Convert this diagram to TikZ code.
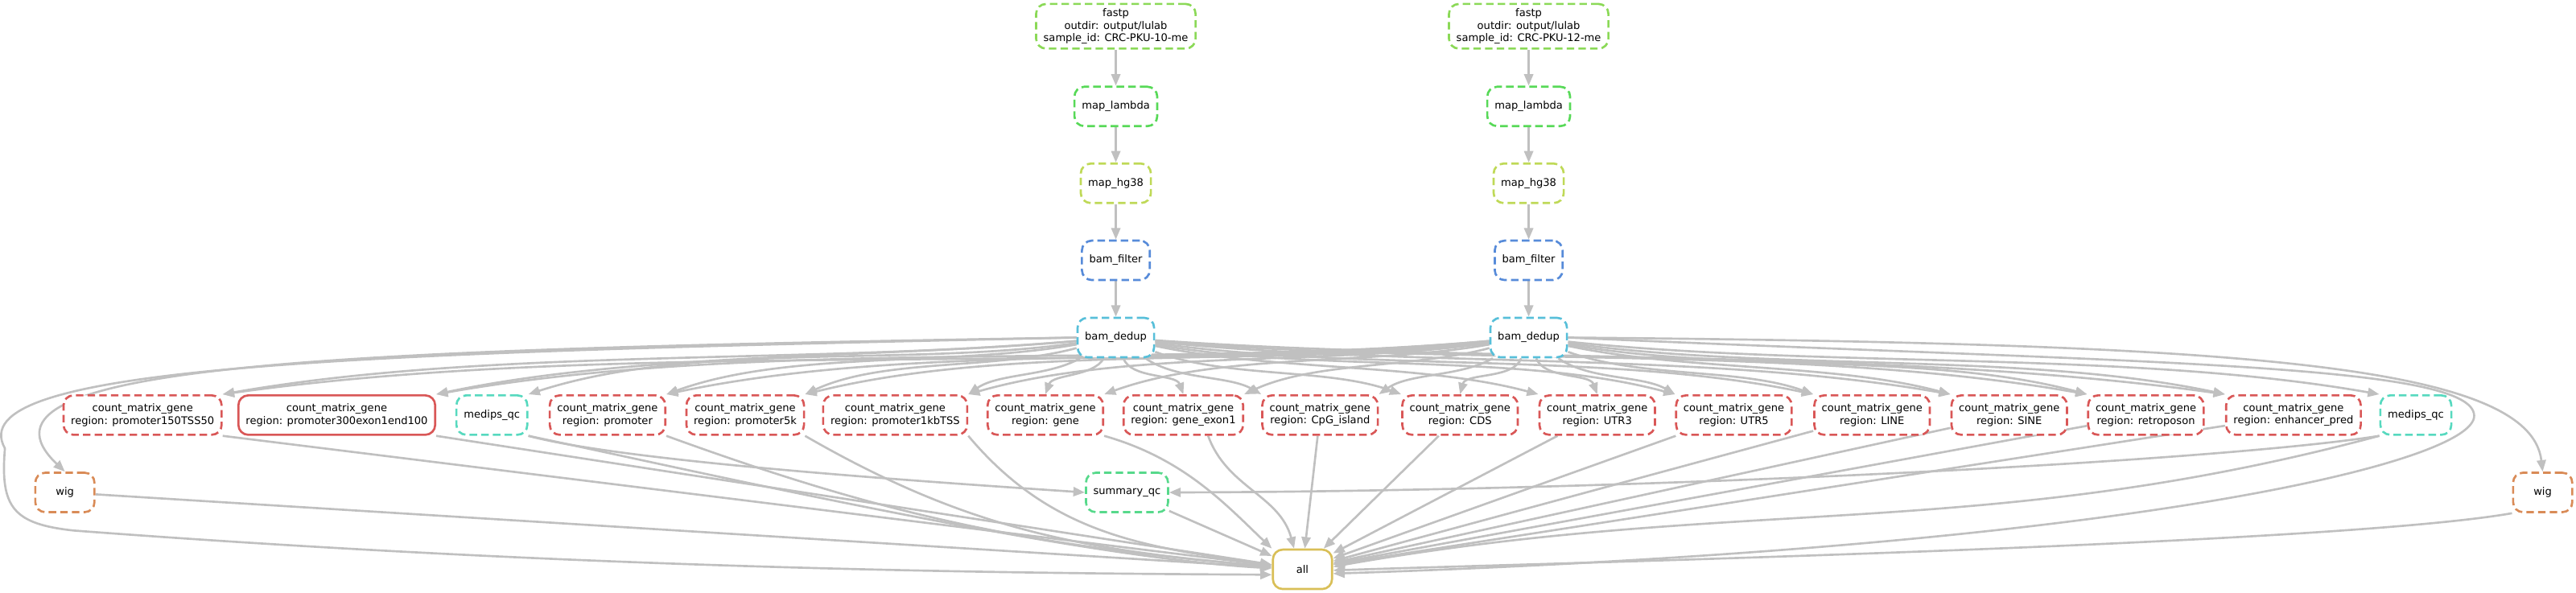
\documentclass[tikz,border=0pt]{standalone}
\usepackage{fontspec}
\setmainfont{DejaVu Sans}
\usepackage{tikz}
\usetikzlibrary{arrows.meta,backgrounds}
\usepackage{xcolor}
\definecolor{cmgred}{HTML}{D95757}
\definecolor{wigorange}{HTML}{D98B57}
\definecolor{allgold}{HTML}{D9BF57}
\definecolor{hgyellow}{HTML}{BFD957}
\definecolor{fastpgreen}{HTML}{8BD957}
\definecolor{lambdagreen}{HTML}{57D957}
\definecolor{summgreen}{HTML}{57D98B}
\definecolor{qcteal}{HTML}{57D9BF}
\definecolor{dedupcyan}{HTML}{57BFD9}
\definecolor{filterblue}{HTML}{578BD9}
\definecolor{edgegrey}{HTML}{C0C0C0}

\tikzset{
  rulebox/.style={draw=#1, fill=white, rounded corners=6pt, line width=1.3pt,
    dash pattern=on 4.6pt off 2.5pt, minimum width=36pt, minimum height=24pt,
    inner xsep=4.5pt, inner ysep=3pt, align=center,
    font=\fontsize{6.4}{7.4}\selectfont},
  runbox/.style={rulebox=#1, solid},
  dep/.style={draw=edgegrey, line width=1.3pt, -{Triangle[length=7pt,width=5.5pt]}},
  fan/.style={dep, looseness=0.8},
}

\begin{document}
\begin{tikzpicture}[x=1pt,y=1pt]
  \useasboundingbox (0,0) rectangle (1568,361);

  % one chain per sample
  \node[rulebox=fastpgreen] (fastpA) at (679.2,345) {fastp\\outdir: output/lulab\\sample\_id: CRC-PKU-10-me};
  \node[rulebox=lambdagreen] (lambdaA) at (679.2,296.2) {map\_lambda};
  \node[rulebox=hgyellow] (hgA) at (679.2,249.4) {map\_hg38};
  \node[rulebox=filterblue] (filterA) at (679.2,202.5) {bam\_filter};
  \node[rulebox=dedupcyan] (dedupA) at (679.2,155.5) {bam\_dedup};

  \node[rulebox=fastpgreen] (fastpB) at (930.5,345) {fastp\\outdir: output/lulab\\sample\_id: CRC-PKU-12-me};
  \node[rulebox=lambdagreen] (lambdaB) at (930.5,296.2) {map\_lambda};
  \node[rulebox=hgyellow] (hgB) at (930.5,249.4) {map\_hg38};
  \node[rulebox=filterblue] (filterB) at (930.5,202.5) {bam\_filter};
  \node[rulebox=dedupcyan] (dedupB) at (930.5,155.5) {bam\_dedup};

  % count matrices and qc
  \node[rulebox=cmgred] (r150) at (86.8,108.3) {count\_matrix\_gene\\region: promoter150TSS50};
  \node[runbox=cmgred] (r300) at (205,108.3) {count\_matrix\_gene\\region: promoter300exon1end100};
  \node[rulebox=qcteal] (qcA) at (299.4,108.3) {medips\_qc};
  \node[rulebox=cmgred] (rprom) at (369.8,108.3) {count\_matrix\_gene\\region: promoter};
  \node[rulebox=cmgred] (r5k) at (453.6,108.3) {count\_matrix\_gene\\region: promoter5k};
  \node[rulebox=cmgred] (r1kb) at (544.9,108.3) {count\_matrix\_gene\\region: promoter1kbTSS};
  \node[rulebox=cmgred] (rgene) at (636.3,108.3) {count\_matrix\_gene\\region: gene};
  \node[rulebox=cmgred] (rexon) at (720.3,108.3) {count\_matrix\_gene\\region: gene\_exon1};
  \node[rulebox=cmgred] (rcpg) at (803.5,108.3) {count\_matrix\_gene\\region: CpG\_island};
  \node[rulebox=cmgred] (rcds) at (888.7,108.3) {count\_matrix\_gene\\region: CDS};
  \node[rulebox=cmgred] (rutr3) at (972.2,108.3) {count\_matrix\_gene\\region: UTR3};
  \node[rulebox=cmgred] (rutr5) at (1055.4,108.3) {count\_matrix\_gene\\region: UTR5};
  \node[rulebox=cmgred] (rline) at (1139.5,108.3) {count\_matrix\_gene\\region: LINE};
  \node[rulebox=cmgred] (rsine) at (1223,108.3) {count\_matrix\_gene\\region: SINE};
  \node[rulebox=cmgred] (rretro) at (1306.2,108.3) {count\_matrix\_gene\\region: retroposon};
  \node[rulebox=cmgred] (renh) at (1396,108.3) {count\_matrix\_gene\\region: enhancer\_pred};
  \node[rulebox=qcteal] (qcB) at (1470.5,108.3) {medips\_qc};

  \node[rulebox=wigorange] (wigA) at (39.5,61.2) {wig};
  \node[rulebox=summgreen] (summary) at (686,61.2) {summary\_qc};
  \node[rulebox=wigorange] (wigB) at (1547.7,61.2) {wig};

  \node[runbox=allgold] (all) at (792.8,14.4) {all};

  \begin{scope}[on background layer]
    \foreach \s in {A,B} {
      \draw[dep] (fastp\s) -- (lambda\s);
      \draw[dep] (lambda\s) -- (hg\s);
      \draw[dep] (hg\s) -- (filter\s);
      \draw[dep] (filter\s) -- (dedup\s);
    }

    \foreach \t/\o/\i/\a in {r150/185/10/north east, r300/185/12/north east,
        qcA/188/18/north east, rprom/190/20/north east, r5k/195/25/north east,
        r1kb/210/35/north east, rgene/240/70/north, rexon/-70/110/north,
        rcpg/-35/150/north west, rcds/-20/160/north west, rutr3/-12/165/north west,
        rutr5/-10/165/north west, rline/-8/168/north west, rsine/-6/170/north west,
        rretro/-5/170/north west, renh/-4/172/north west}
      \draw[fan] (dedupA) to[out=\o,in=\i] (\t.\a);

    \foreach \t/\o/\i/\a in {r150/185/8/north east, r300/185/10/north east,
        rprom/186/12/north east, r5k/187/14/north east, r1kb/188/16/north east,
        rgene/190/20/north east, rexon/195/25/north east, rcpg/210/35/north east,
        rcds/250/75/north, rutr3/-70/110/north, rutr5/-35/150/north west,
        rline/-20/160/north west, rsine/-12/165/north west, rretro/-10/165/north west,
        renh/-8/168/north west, qcB/-6/170/north west}
      \draw[fan] (dedupB) to[out=\o,in=\i] (\t.\a);

    % wig and the long way round
    \draw[dep] (dedupA.west) .. controls (200,148) and (-30,140) .. (wigA.north);
    \draw[dep] (dedupB.east) .. controls (1360,152) and (1540,140) .. (wigB.north);
    \draw[dep] (dedupA.west) .. controls (200,146) and (-25,138) .. (3,88)
      .. controls (0,52) and (8,42) .. (45,38)
      .. controls (350,15) and (600,12) .. (all.190);
    \draw[dep] (dedupB.east) .. controls (1300,140) and (1505,140) .. (1506,108)
      .. controls (1507,80) and (1300,28) .. (all.-8);

    % qc summary
    \draw[dep] (qcA.south east) .. controls (380,80) and (560,68) .. (summary.west);
    \draw[dep] (qcB.south west) .. controls (1350,80) and (1000,62) .. (summary.east);

    % into all
    \draw[dep] (wigA) -- (all);
    \draw[dep] (r150.south east) -- (all);
    \draw[dep] (r300.south east) -- (all);
    \draw[dep] (qcA.south east) .. controls (420,75) and (650,22) .. (all.178);
    \draw[dep] (rprom.south east) to[out=-20,in=175] (all);
    \draw[dep] (r5k.south east) to[out=-30,in=175] (all);
    \draw[dep] (r1kb.south east) to[out=-50,in=172] (all);
    \draw[dep] (rgene.south east) .. controls (720,82) and (745,55) .. (all.north west);
    \draw[dep] (summary) -- (all);
    \draw[dep] (rexon.-40) to[out=-70,in=105] (all.112);
    \foreach \s in {rcpg,rcds,rutr3,rutr5,rline,rsine,rretro,renh}
      \draw[dep] (\s) -- (all);
    \draw[dep] (qcB.south west) to[out=195,in=10] (all.5);
    \draw[dep] (wigB.south west) to[out=190,in=2,looseness=0.4] (all.-2);
  \end{scope}
\end{tikzpicture}
\end{document}
